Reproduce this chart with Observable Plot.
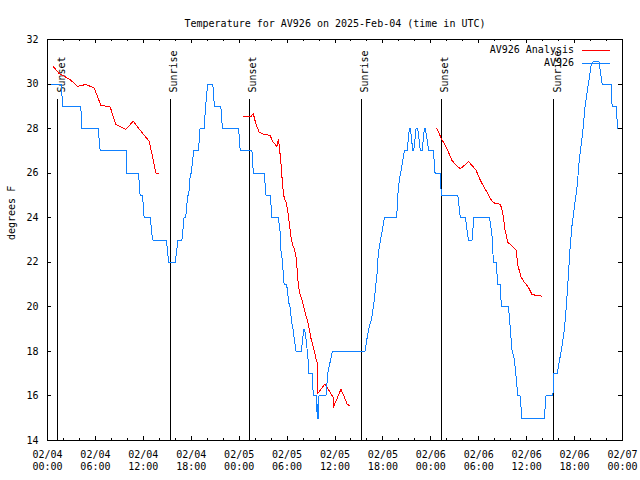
<!DOCTYPE html>
<html>
<head>
<meta charset="utf-8">
<script src="https://cdn.jsdelivr.net/npm/d3@7"></script>
<script src="https://cdn.jsdelivr.net/npm/@observablehq/plot@0.6"></script>
<style>
  body { margin: 0; background: #fff; }
  #chart svg { display: block; }
</style>
</head>
<body>
<div id="chart"></div>
<script>
// ---------- data ----------
const titleText = "Temperature for AV926 on 2025-Feb-04 (time in UTC)";
const yLabelText = "degrees F";
const seriesNames = ["AV926 Analysis", "AV926"];
const seriesColors = ["#ff0000", "#0f80ff"];

// hours after 2025-02-04 00:00 UTC
const obsHours = [0,1.75,1.88,4.17,4.3,6.34,6.6,9.85,9.94,11.4,11.6,11.9,12.1,12.86,13.16,14.9,15.16,16.0,16.33,16.83,17.1,17.3,17.55,17.67,17.9,18.0,18.3,18.9,19.1,19.6,19.8,20.05,20.7,20.9,21.7,21.9,23.93,24.13,25.6,25.77,27.14,27.36,27.9,28.1,28.9,29.02,29.15,29.24,29.36,29.45,29.57,29.65,29.95,30.2,30.36,30.58,30.74,31.12,31.78,32.1,32.2,32.4,32.66,32.74,33.16,33.28,33.66,33.78,33.84,33.9,34.0,34.87,35.09,35.66,39.76,39.97,40.22,40.6,40.85,41.0,41.27,41.35,41.55,41.85,42.18,43.73,43.86,44.06,44.27,44.49,44.69,45.03,45.31,45.45,45.74,45.86,46.15,46.36,46.69,46.9,47.19,47.32,47.74,48.32,48.53,49.16,49.32,51.38,51.7,52.33,52.7,53.17,53.38,55.34,55.64,55.84,56.18,56.39,56.68,56.84,57.72,57.85,58.15,58.47,58.77,58.9,59.19,59.4,62.23,62.4,63.28,63.41,63.82,64.11,64.32,64.66,64.86,65.04,65.24,65.41,65.66,65.91,66.11,66.32,66.6,67.04,67.3,67.6,67.8,68.1,68.3,69.05,69.46,70.59,70.7,71.2,71.4,72];
const obsTemps = [30,30,29,29,28,28,27,27,26,26,25,25,24,24,23,23,22,22,23,23,24,24,25,25,26,26,27,27,28,28,29,30,30,29,29,28,28,27,27,26,26,25,25,24,24,23.7,23.3,22.5,22.2,21.9,21.2,21,21,20.2,20,19.3,19,18,18,19,19,18.5,17.5,17,17,16,16,15,15.6,15,16,16,17,18,18,18.5,19,19.5,20.1,20.6,21.5,22.1,22.7,23.3,24,24,25,25.7,26.1,26.6,27,27,28,28,27,27,28,28,27,27,28,28,27,27,26,26,25,25,24,24,23,23,24,24,23.3,22,22,21,21,20,20,19.5,18.1,17.6,16.5,16,16,15,15,16,16,17,17,17.6,18,18.8,19.5,20.4,21.5,22.5,23.6,24.3,24.86,25.4,26.65,27.9,28.97,29.7,30.17,30.92,31,31,30,30,29,29,28,28];

// analysis: three segments separated by null
const anaHours = [0.70,1.45,2.08,2.83,3.76,4.8,5.84,6.68,7.85,8.56,9.81,10.73,11.6,12.73,13.16,13.57,13.9,
  null,
  24.56,25.48,25.77,26.1,26.5,27.14,27.9,28.07,28.4,28.73,28.9,29.02,29.24,29.45,29.65,29.86,30.08,30.28,30.49,30.7,30.9,31.12,31.3,31.4,31.6,31.95,32.28,32.66,33.0,33.4,33.66,33.79,33.83,34.25,34.75,35.16,35.5,35.75,35.84,36.0,36.34,36.75,37.17,37.5,37.8,
  null,
  48.75,49.07,49.29,49.7,50.2,50.63,51.17,51.7,52.2,52.7,53.26,53.67,54.09,54.64,55.14,55.64,55.96,56.72,57.02,57.3,57.64,58.06,58.68,58.9,59.3,59.72,60.2,60.66,61.2,61.9];
const anaTemps = [30.8,30.47,30.35,30.2,29.9,29.98,29.83,29.05,28.97,28.18,27.97,28.33,27.93,27.43,26.73,26.0,26.0,
  null,
  28.55,28.55,28.67,28.2,27.85,27.73,27.7,27.5,27.33,27.2,27.5,27.25,26.4,25.4,24.86,24.7,24.33,23.73,23.13,22.76,22.6,22.23,21.5,21.0,20.6,20.2,19.7,19.24,18.57,18.04,17.6,17.5,16.1,16.3,16.55,16.3,16.1,15.95,15.5,15.68,15.95,16.3,15.95,15.65,15.57,
  null,
  28.0,27.77,27.55,27.33,26.95,26.58,26.35,26.2,26.35,26.53,26.3,26.13,25.76,25.38,25.08,24.75,24.66,24.6,24.18,23.43,22.9,22.76,22.54,21.86,21.33,21.1,20.89,20.56,20.51,20.48];

const sunHours = [1.25, 15.36, 25.26, 39.3, 49.3, 63.36];
const sunLabels = ["Sunset", "Sunrise", "Sunset", "Sunrise", "Sunset", "Sunrise"];

const yTicks = [14,16,18,20,22,24,26,28,30,32];
const xMajorHours = [0,6,12,18,24,30,36,42,48,54,60,66,72];
const xTickLabels = ["02/04\n00:00","02/04\n06:00","02/04\n12:00","02/04\n18:00","02/05\n00:00","02/05\n06:00","02/05\n12:00","02/05\n18:00","02/06\n00:00","02/06\n06:00","02/06\n12:00","02/06\n18:00","02/07\n00:00"];
const xMinorHours = [2,4,8,10,14,16,20,22,26,28,32,34,38,40,44,46,50,52,56,58,62,64,68,70];

// ---------- build ----------
const base = Date.UTC(2025, 1, 4, 0, 0);
const toDate = h => (h === null ? null : new Date(base + h * 3600e3));

const obs = obsHours.map((h, i) => ({date: toDate(h), temp: obsTemps[i]}));
const ana = anaHours.map((h, i) => ({date: toDate(h), temp: anaTemps[i]}));
const sun = sunHours.map((h, i) => ({date: toDate(h), label: sunLabels[i]}));
const xMajor = xMajorHours.map((h, i) => ({date: toDate(h), label: xTickLabels[i]}));
const xMinor = xMinorHours.map(toDate);

const W = 640, H = 480, mL = 47, mR = 18, mT = 39, mB = 40;
const fW = W - mL - mR, fH = H - mT - mB;
const font = "'DejaVu Sans Mono', 'Liberation Mono', monospace";

const plot = Plot.plot({
  width: W, height: H,
  marginLeft: mL, marginRight: mR, marginTop: mT, marginBottom: mB,
  style: {fontFamily: font, fontSize: "10px", background: "white", color: "black", overflow: "visible"},
  x: {type: "utc", domain: [toDate(0), toDate(72)], axis: null},
  y: {type: "linear", domain: [14, 32], axis: null},
  marks: [
    // sunrise/sunset markers
    Plot.ruleX(sun, {x: "date", insetTop: 60, stroke: "black", strokeWidth: 1, shapeRendering: "crispEdges"}),
    Plot.text(sun, {x: "date", text: "label", rotate: -90, textAnchor: "start", frameAnchor: "top", dy: 53, fill: "black"}),
    // series
    Plot.line(ana, {x: "date", y: "temp", stroke: seriesColors[0], strokeWidth: 1, shapeRendering: "crispEdges"}),
    Plot.line(obs, {x: "date", y: "temp", stroke: seriesColors[1], strokeWidth: 1, shapeRendering: "crispEdges"}),
    // ticks (inward, mirrored)
    Plot.tickX(xMajor, {x: "date", insetTop: fH - 4, stroke: "black", shapeRendering: "crispEdges"}),
    Plot.tickX(xMajor, {x: "date", insetBottom: fH - 4, stroke: "black", shapeRendering: "crispEdges"}),
    Plot.tickX(xMinor, {x: d => d, insetTop: fH - 2, stroke: "black", shapeRendering: "crispEdges"}),
    Plot.tickX(xMinor, {x: d => d, insetBottom: fH - 2, stroke: "black", shapeRendering: "crispEdges"}),
    Plot.tickY(yTicks, {y: d => d, insetRight: fW - 4, stroke: "black", shapeRendering: "crispEdges"}),
    Plot.tickY(yTicks, {y: d => d, insetLeft: fW - 4, stroke: "black", shapeRendering: "crispEdges"}),
    Plot.frame({stroke: "black", shapeRendering: "crispEdges"}),
    // tick labels
    Plot.text(xMajor, {x: "date", text: "label", frameAnchor: "bottom", lineAnchor: "top", dy: 9, lineHeight: 1.17, fill: "black"}),
    Plot.text(yTicks, {y: d => d, text: d => String(d), frameAnchor: "left", textAnchor: "end", dx: -9, fill: "black"}),
    // axis title and chart title
    Plot.text([yLabelText], {text: d => d, frameAnchor: "left", rotate: -90, dx: -36, fill: "black"}),
    Plot.text([titleText], {text: d => d, frameAnchor: "top", dy: -20, fill: "black"})
  ]
});

// legend (top right, inside the frame)
const svg = d3.select(plot);
const lg = svg.append("g").attr("font-family", font).attr("font-size", 10);
seriesNames.forEach((name, i) => {
  const y = mT + 10.5 + i * 13;
  lg.append("text").attr("x", 574).attr("y", y).attr("text-anchor", "end")
    .attr("dominant-baseline", "middle").attr("fill", "black").text(name);
  lg.append("line").attr("x1", 582).attr("x2", 610).attr("y1", Math.round(y) + 0.5).attr("y2", Math.round(y) + 0.5)
    .attr("stroke", seriesColors[i]).attr("stroke-width", 1).attr("shape-rendering", "crispEdges");
});

document.getElementById("chart").appendChild(plot);
</script>
</body>
</html>
